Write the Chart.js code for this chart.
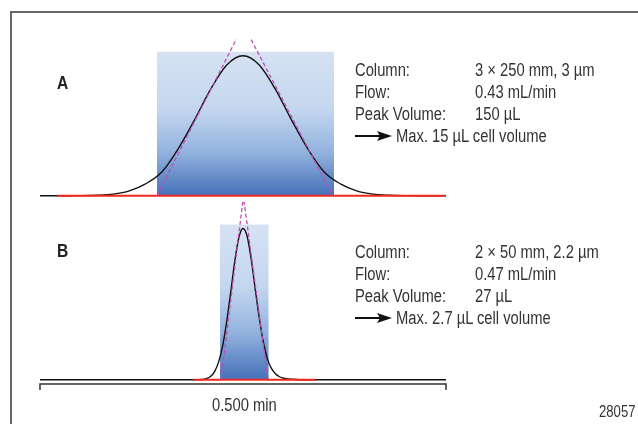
<!DOCTYPE html>
<html>
<head>
<meta charset="utf-8">
<script src="https://cdn.jsdelivr.net/npm/chart.js@4/dist/chart.umd.min.js"></script>
<style>
  body { margin: 0; background: #fff; width: 638px; height: 424px; overflow: hidden; position: relative;
         font-family: "Liberation Sans", Arial, sans-serif; color: #333; }
  .frame { position: absolute; left: 10px; top: 11px; width: 660px; height: 440px;
           border-top: 2px solid #666; border-left: 2px solid #666; }
  canvas { position: absolute; left: 0; }
  #chartA { top: 0; }
  #chartB { top: 190px; }
  .t { position: absolute; font-size: 18px; line-height: 20px; white-space: nowrap;
       transform: scaleX(0.82); transform-origin: 0 50%; }
  .small { font-size: 16px; }
  .tag { position: absolute; font-size: 19px; font-weight: bold; color: #222; line-height: 20px;
         transform: scaleX(0.82); transform-origin: 0 50%; }
  .arrow { position: absolute; }
</style>
</head>
<body>
<div class="frame"></div>
<canvas id="chartA" width="638" height="210"></canvas>
<canvas id="chartB" width="638" height="210"></canvas>
<div id="labels"></div>
<script>
// time axis in minutes, detector signal normalised to peak height
const timeA = [0, 0.03, 0.05, 0.07, 0.09, 0.11, 0.13, 0.15, 0.17, 0.19, 0.21, 0.23, 0.25,
               0.27, 0.29, 0.31, 0.33, 0.35, 0.37, 0.39, 0.41, 0.43, 0.45, 0.47, 0.5];
const signalA = [0, 0, 0.001, 0.004, 0.012, 0.035, 0.085, 0.17, 0.334, 0.539, 0.76, 0.934, 1,
                 0.934, 0.76, 0.539, 0.334, 0.17, 0.085, 0.035, 0.012, 0.004, 0.001, 0, 0];

const timeB = [0, 0.19, 0.2, 0.205, 0.21, 0.215, 0.22, 0.225, 0.23, 0.235, 0.24, 0.245, 0.25,
               0.255, 0.26, 0.265, 0.27, 0.275, 0.28, 0.285, 0.29, 0.295, 0.3, 0.31, 0.32, 0.5];
const signalB = [0, 0, 0.002, 0.008, 0.022, 0.054, 0.118, 0.226, 0.387, 0.585, 0.788, 0.942, 1,
                 0.95, 0.8, 0.6, 0.41, 0.25, 0.14, 0.075, 0.04, 0.02, 0.01, 0.003, 0, 0];

// tangents through the inflection points
const tangentTimeA = [0.144, 0.2506, 0.3608];
const tangentA = [0, 1.22, 0];
const tangentTimeB = [0.2229, 0.2505, 0.2808];
const tangentB = [0, 1.21, 0];

// peak volume box (start, end) and its height
const boxTimeA = [0.144, 0.3621];
const boxHeightA = 1.029;
const boxTimeB = [0.2217, 0.2817];
const boxHeightB = 1.026;

// integrated baseline
const baseTimeA = [0.021, 0.5];
const baseTimeB = [0.1884, 0.3387];

const infoLabels = ['Column:', 'Flow:', 'Peak Volume:'];
const infoA = ['3 × 250 mm, 3 µm', '0.43 mL/min', '150 µL'];
const noteA = 'Max. 15 µL cell volume';
const infoB = ['2 × 50 mm, 2.2 µm', '0.47 mL/min', '27 µL'];
const noteB = 'Max. 2.7 µL cell volume';
const scaleLabel = '0.500 min';
const figureId = '28057';

const pts = (xs, ys) => xs.map((x, i) => ({ x: x, y: ys[i] }));

function boxFill(height) {
    return function (ctx) {
        const chart = ctx.chart;
        if (!chart.chartArea) return '#c9daf0';
        const y = chart.scales.y;
        const g = chart.ctx.createLinearGradient(0, y.getPixelForValue(height), 0, y.getPixelForValue(0));
        g.addColorStop(0, '#d6e2f3');
        g.addColorStop(0.4, '#c4d6ef');
        g.addColorStop(0.7, '#92b2de');
        g.addColorStop(1, '#4570b8');
        return g;
    };
}

const scaleBar = {
    id: 'scaleBar',
    afterDraw(chart, args, opts) {
        if (!opts.show) return;
        const c = chart.ctx, x = chart.scales.x;
        const x0 = x.getPixelForValue(0), x1 = x.getPixelForValue(0.5);
        c.save();
        c.strokeStyle = '#333';
        c.lineWidth = 1.5;
        c.beginPath();
        c.moveTo(x0, opts.y + 6);
        c.lineTo(x0, opts.y);
        c.lineTo(x1, opts.y);
        c.lineTo(x1, opts.y + 6);
        c.stroke();
        c.restore();
    }
};

function makeChart(id, t, s, tt, ts, box, boxH, base, yMin, yMax, pad, bar) {
    return new Chart(document.getElementById(id), {
        type: 'line',
        data: {
            datasets: [
                { data: pts(tt, ts), borderColor: '#c04cb4', borderWidth: 1.3, borderDash: [4, 2.5],
                  pointRadius: 0, tension: 0, order: 0 },
                { data: pts(base, [0, 0]), borderColor: '#f2281e', borderWidth: 2,
                  pointRadius: 0, order: 1 },
                { data: pts(t, s), borderColor: '#111', borderWidth: 1.4, pointRadius: 0,
                  cubicInterpolationMode: 'monotone', order: 2 },
                { data: pts(box, [boxH, boxH]), borderWidth: 0, borderColor: 'rgba(0,0,0,0)',
                  pointRadius: 0, fill: 'origin', backgroundColor: boxFill(boxH), order: 3 }
            ]
        },
        options: {
            responsive: false,
            animation: false,
            layout: { padding: pad },
            scales: {
                x: { type: 'linear', display: false, min: 0, max: 0.5 },
                y: { display: false, min: yMin, max: yMax }
            },
            plugins: { legend: { display: false }, tooltip: { enabled: false }, scaleBar: bar }
        },
        plugins: [scaleBar]
    });
}

makeChart('chartA', timeA, signalA, tangentTimeA, tangentA, boxTimeA, boxHeightA, baseTimeA,
          -0.03, 1.12, { left: 40, right: 192, top: 39, bottom: 10 }, { show: false });
makeChart('chartB', timeB, signalB, tangentTimeB, tangentB, boxTimeB, boxHeightB, baseTimeB,
          -0.028, 1.175, { left: 40, right: 192, top: 12, bottom: 16 }, { show: true, y: 194 });

// text
const holder = document.getElementById('labels');
function put(cls, text, x, y) {
    const d = document.createElement('div');
    d.className = cls;
    d.textContent = text;
    d.style.left = x + 'px';
    d.style.top = y + 'px';
    holder.appendChild(d);
    return d;
}
function arrow(x, y) {
    const ns = 'http://www.w3.org/2000/svg';
    const svg = document.createElementNS(ns, 'svg');
    svg.setAttribute('class', 'arrow');
    svg.setAttribute('width', 40);
    svg.setAttribute('height', 12);
    svg.style.left = x + 'px';
    svg.style.top = (y - 6) + 'px';
    svg.innerHTML = '<line x1="0" y1="6" x2="26" y2="6" stroke="#111" stroke-width="2"/>' +
                    '<polygon points="22,1 37,6 22,11 25,6" fill="#111"/>';
    holder.appendChild(svg);
}
function block(rows, note, y0) {
    rows.forEach((v, i) => {
        put('t', infoLabels[i], 355, y0 + i * 22 - 10);
        put('t', v, 475, y0 + i * 22 - 10);
    });
    arrow(355, y0 + 3 * 22);
    put('t', note, 396, y0 + 3 * 22 - 10);
}
block(infoA, noteA, 70);
block(infoB, noteB, 252);
put('tag', 'A', 57, 73);
put('tag', 'B', 57, 241);
const sl = put('t', scaleLabel, 0, 395);
sl.style.left = (244 - sl.getBoundingClientRect().width / 2) + 'px';
const fid = put('t small', figureId, 0, 402);
fid.style.left = (635 - fid.getBoundingClientRect().width) + 'px';
</script>
</body>
</html>
